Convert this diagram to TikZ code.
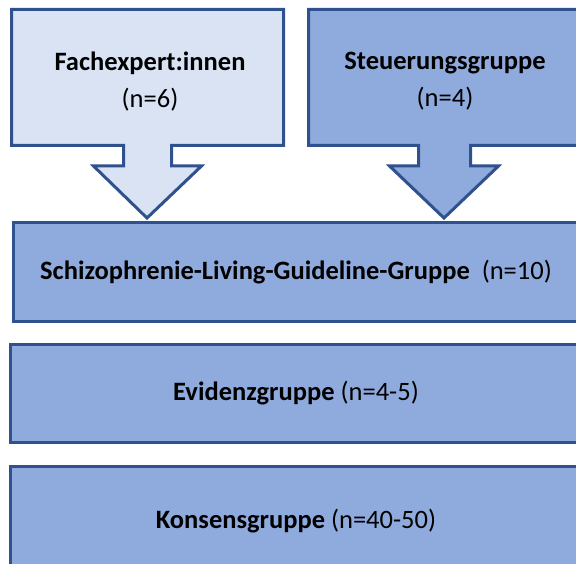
\documentclass[tikz,border=0pt]{standalone}
\usepackage{fontspec}
\setmainfont{Carlito}
\definecolor{edge}{HTML}{2F528F}
\definecolor{palefill}{HTML}{DAE3F3}
\definecolor{midfill}{HTML}{8FAADC}
\begin{document}
\begin{tikzpicture}[x=1pt,y=1pt,
  outline/.style={draw=edge, line width=3pt, line join=miter},
  groupbox/.style={outline, fill=midfill, rectangle, inner sep=0pt,
    font=\fontsize{26.5}{32}\selectfont},
  label/.style={align=center, inner sep=0pt, font=\fontsize{26.5}{37}\selectfont}]
\useasboundingbox (0,0) rectangle (576,563);
\clip (0,0) rectangle (576,563);

% expert callout (light) and steering callout (mid), each a box with a down arrow
\draw[outline, fill=palefill]
  (11.5,553.5) -- (283.5,553.5) -- (283.5,417.5) -- (171.5,417.5) -- (171.5,397)
  -- (201.5,397) -- (147,345) -- (93.5,397) -- (123.5,397) -- (123.5,417.5)
  -- (11.5,417.5) -- cycle;
\draw[outline, fill=midfill]
  (308.5,553.5) -- (590,553.5) -- (590,417.5) -- (470.5,417.5) -- (470.5,397)
  -- (498.5,397) -- (444,345) -- (389.5,397) -- (418.5,397) -- (418.5,417.5)
  -- (308.5,417.5) -- cycle;
\node[label] (experts) at (150,481) {\textbf{Fachexpert:innen}\\(n=6)};
\node[label] (steering) at (445,482) {\textbf{Steuerungsgruppe}\\(n=4)};

% stacked group boxes, running past the right edge
\node[groupbox, minimum width=565pt, minimum height=99pt] (living) at (296,291)
  {\textbf{Schizophrenie-Living-Guideline-Gruppe}\ \ (n=10)};
\node[groupbox, minimum width=571pt, minimum height=98pt] (evidence) at (296,169.5)
  {\textbf{Evidenzgruppe} (n=4-5)};
\node[groupbox, minimum width=571pt, minimum height=109pt] (consensus) at (296,42)
  {\textbf{Konsensgruppe} (n=40-50)};
\end{tikzpicture}
\end{document}
